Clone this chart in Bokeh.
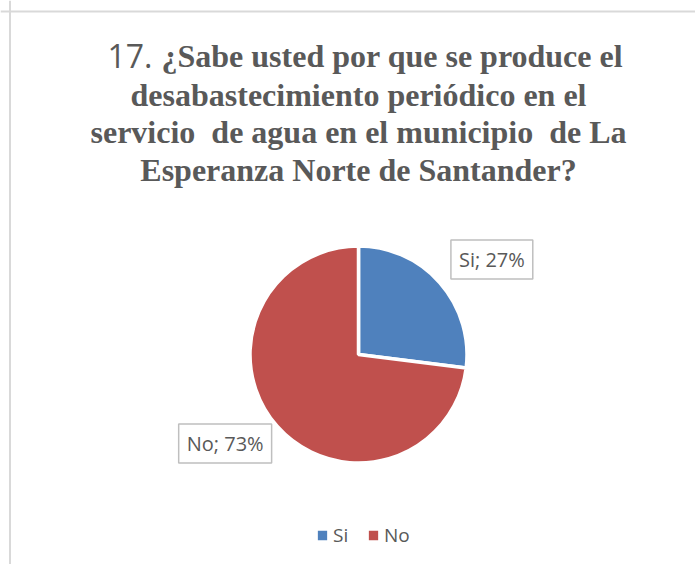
import math
from bokeh.plotting import figure
from bokeh.models import ColumnDataSource, Range1d, Label, Span, Legend, LegendItem
from bokeh.embed import file_html
from bokeh.resources import INLINE

# ---- data ----
categories = ["Si", "No"]
percentages = [27, 73]
colors = ["#4F81BD", "#C0504D"]
title_prefix = "17."
title_lines = [
    "¿Sabe usted por que se produce el",
    "desabastecimiento periódico en el",
    "servicio\u00a0 de agua en el municipio\u00a0 de La",
    "Esperanza Norte de Santander?",
]

W, H = 695, 564
p = figure(width=W, height=H, output_backend="svg", toolbar_location=None,
           x_range=Range1d(0, W), y_range=Range1d(0, H),
           min_border=0, min_border_left=0, min_border_right=0,
           min_border_top=0, min_border_bottom=0)
p.axis.visible = False
p.grid.visible = False
p.outline_line_color = None
p.background_fill_color = "white"
p.border_fill_color = "white"

# chart border (top/left visible, rest cropped)
p.add_layout(Span(location=9.5, dimension="height", line_color="#D9D9D9", line_width=2))
p.add_layout(Span(location=H - 11, dimension="width", line_color="#D9D9D9", line_width=2))

# ---- pie ----
cx, cy, r = 358, 210, 108.5
total = sum(percentages)
starts, ends, mids = [], [], []
acc = 0.0
for v in percentages:
    a0 = math.pi / 2 - 2 * math.pi * acc / total
    acc += v
    a1 = math.pi / 2 - 2 * math.pi * acc / total
    starts.append(a0)
    ends.append(a1)
    mids.append((a0 + a1) / 2)

src = ColumnDataSource(dict(cat=categories, val=percentages, color=colors,
                            start=starts, end=ends))
wr = p.wedge(x=cx, y=cy, radius=r, start_angle="start", end_angle="end",
             direction="clock", fill_color="color", line_color="white",
             line_width=3.5, source=src)

# data labels
for cat, v, m in zip(categories, percentages, mids):
    a = m - math.radians(6.8)
    lx = cx + 162 * math.cos(a)
    ly = cy + 162 * math.sin(a) + 3
    p.add_layout(Label(x=lx, y=ly, text=f"{cat}; {v}%", text_align="center",
                       text_baseline="middle", text_font="Open Sans",
                       text_font_size="20px", text_color="#595959",
                       background_fill_color="white", border_line_color="#BFBFBF",
                       border_line_width=1.5, padding=(8, 6)))

# ---- title ----
tcx = 358
baselines = [509, 470, 433, 395]
p.add_layout(Label(x=152, y=baselines[0], text=title_prefix, text_align="right",
                   text_baseline="alphabetic", text_font="Open Sans",
                   text_font_size="32px", text_color="#595959"))
p.add_layout(Label(x=161, y=baselines[0], text=title_lines[0], text_align="left",
                   text_baseline="alphabetic", text_font="Liberation Serif",
                   text_font_style="bold", text_font_size="32px", text_color="#595959"))
for line, b in zip(title_lines[1:], baselines[1:]):
    p.add_layout(Label(x=tcx, y=b, text=line, text_align="center",
                       text_baseline="alphabetic", text_font="Liberation Serif",
                       text_font_style="bold", text_font_size="32px", text_color="#595959"))

# ---- legend ----
items = [LegendItem(label=c, renderers=[wr], index=i) for i, c in enumerate(categories)]
legend = Legend(items=items, orientation="horizontal", location=(314, 16),
                glyph_width=16, glyph_height=16, label_standoff=3, spacing=12,
                padding=0, margin=0, border_line_color=None, background_fill_alpha=0,
                label_text_font="Open Sans", label_text_font_size="19px",
                label_text_color="#595959")
p.add_layout(legend, "center")

open("out.html", "w").write(file_html(p, INLINE))
